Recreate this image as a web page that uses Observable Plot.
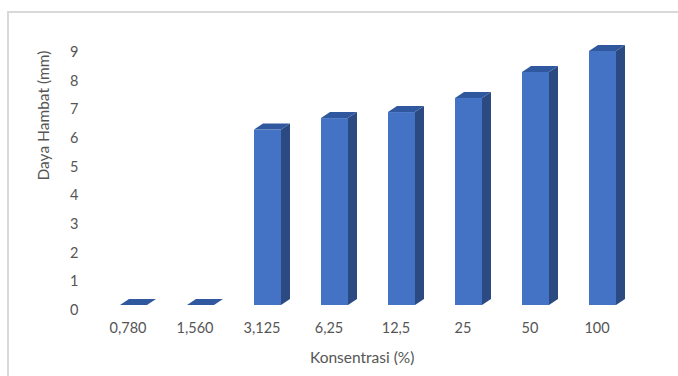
<!DOCTYPE html>
<html>
<head>
<meta charset="utf-8">
<script src="https://cdn.jsdelivr.net/npm/d3@7"></script>
<script src="https://cdn.jsdelivr.net/npm/@observablehq/plot@0.6"></script>
<style>
  html, body { margin: 0; padding: 0; background: #fff; }
  #wrap { position: relative; width: 678px; height: 376px; overflow: hidden; }
  #border { position: absolute; left: 7px; top: 11px; right: 0; bottom: -5px;
            border-top: 2px solid #d9d9d9; border-left: 2px solid #d9d9d9; pointer-events: none; }
  svg { display: block; }
</style>
</head>
<body>
<div id="wrap"><div id="border"></div></div>
<script>
const categories = ["0,780", "1,560", "3,125", "6,25", "12,5", "25", "50", "100"];
const values = [0, 0, 6.12, 6.52, 6.73, 7.22, 8.13, 8.86];
const yTicks = [0, 1, 2, 3, 4, 5, 6, 7, 8, 9];
const yTitle = "Daya Hambat (mm)";
const xTitle = "Konsentrasi (%)";

const data = categories.map((c, i) => ({ cat: c, value: values[i] }));

const FRONT = "#4472c4", SIDE = "#2b4a82", TOP = "#30589e";
const DX = 9, DY = -6;
const FONT = "Lato, 'Open Sans', sans-serif";
const INK = "#555555";

function faces(index, scales, vals, dims, context) {
  const g = d3.create("svg:g");
  const bw = scales.x.bandwidth();
  for (const i of index) {
    const d = data[i];
    const x0 = scales.x(d.cat);
    const yt = scales.y(d.value);
    const yb = scales.y(0);
    const xr = x0 + bw;
    g.append("path")
      .attr("fill", SIDE)
      .attr("d", `M${xr},${yt}L${xr + DX},${yt + DY}L${xr + DX},${yb + DY}L${xr},${yb}Z`);
    g.append("path")
      .attr("fill", TOP)
      .attr("d", `M${x0},${yt}L${x0 + DX},${yt + DY}L${xr + DX},${yt + DY}L${xr},${yt}Z`);
  }
  return g.node();
}

const chart = Plot.plot({
  width: 678,
  height: 376,
  marginLeft: 97,
  marginRight: 38.6,
  marginTop: 47,
  marginBottom: 71,
  style: { fontFamily: FONT, fontSize: "14px", color: INK, background: "transparent" },
  x: { domain: categories, paddingInner: 0.6, paddingOuter: 0.3, label: null },
  y: { domain: [0, 9], label: null },
  marks: [
    Plot.axisY(yTicks, { tickSize: 0, tickPadding: 19, dy: 5, fontSize: 14.5, fill: INK, label: null }),
    Plot.axisX({ tickSize: 0, tickPadding: 17, dx: -6, fontSize: 14.5, fill: INK, label: null }),
    Plot.barY(data, { x: "cat", y: "value", fill: FRONT }),
    Plot.barY(data, { x: "cat", y: "value", fill: "none", render: faces }),
    Plot.text([yTitle], { frameAnchor: "left", dx: -53, dy: 4, rotate: -90, fontSize: 15.5, fill: INK }),
    Plot.text([xTitle], { frameAnchor: "bottom", dx: -6.5, dy: 57, fontSize: 15.5, fill: INK })
  ]
});
document.getElementById("wrap").prepend(chart);
</script>
</body>
</html>
